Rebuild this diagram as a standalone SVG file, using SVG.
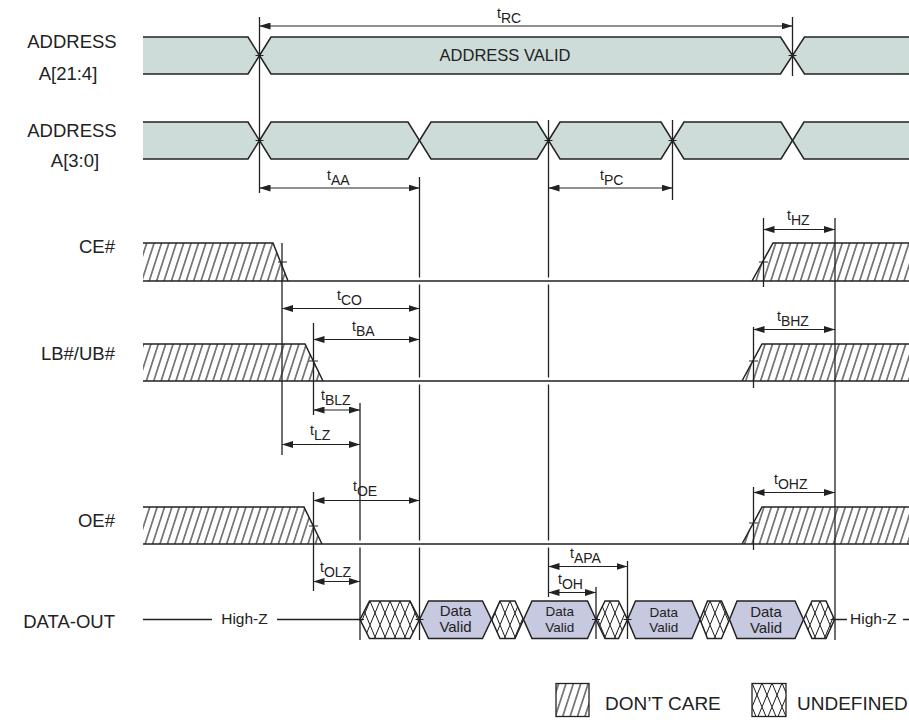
<svg xmlns="http://www.w3.org/2000/svg" width="909" height="722" viewBox="0 0 909 722">
<style>
text{font-family:"Liberation Sans",Arial,sans-serif;fill:#222}
.lbl{font-size:18.5px}
.tl{font-size:14px}
.bus{fill:#cddcd9;stroke:none}
.dv{fill:#c6c9e0;stroke:none}
.ud{fill:url(#xhatch);stroke:none}
.hz{fill:url(#hatch);stroke:none}
.ol{fill:none;stroke:#222;stroke-width:1.5;stroke-linejoin:miter}
.ext{fill:none;stroke:#222;stroke-width:1.3}
.tick{fill:none;stroke:#222;stroke-width:1.2}
.dim{fill:none;stroke:#222;stroke-width:1.2;marker-start:url(#ah);marker-end:url(#ah)}
.dvt{font-size:15px;text-anchor:middle}
.dvs{font-size:13.5px;text-anchor:middle}
</style>
<defs>
<marker id="ah" viewBox="0 0 11 7" refX="11" refY="3.5" markerWidth="11" markerHeight="7" markerUnits="userSpaceOnUse" orient="auto-start-reverse"><path d="M0,0 L11,3.5 L0,7 z" fill="#222"/></marker>
<pattern id="hatch" patternUnits="userSpaceOnUse" width="7.4" height="10" patternTransform="skewX(-18)"><rect width="7.4" height="10" fill="#fff"/><line x1="3.7" y1="-1" x2="3.7" y2="11" stroke="#1a1a1a" stroke-width="1.1"/></pattern>
<pattern id="xhatch" patternUnits="userSpaceOnUse" x="0" y="601" width="10" height="24"><rect width="10" height="24" fill="#fff"/><path d="M0,0 L10,24 M0,24 L10,0" stroke="#1a1a1a" stroke-width="1" fill="none"/></pattern>
<pattern id="xhatchL" patternUnits="userSpaceOnUse" x="752" y="683" width="10" height="24"><rect width="10" height="24" fill="#fff"/><path d="M0,0 L10,24 M0,24 L10,0" stroke="#1a1a1a" stroke-width="1" fill="none"/></pattern>
</defs>
<rect width="909" height="722" fill="#fff"/>

<g id="addr-hi">
<text class="lbl" x="72" y="48" text-anchor="middle">ADDRESS</text>
<text class="lbl" x="68" y="80" text-anchor="middle">A[21:4]</text>
<path class="bus" d="M143,37 H248 L259.5,55.5 L248,74 H143 Z"/>
<path class="ol" d="M143,37 H248 L259.5,55.5 L248,74 H143"/>
<path class="bus" d="M259.5,55.5 L271,37 H780.5 L792.5,55.5 L780.5,74 H271 Z"/>
<path class="ol" d="M259.5,55.5 L271,37 H780.5 L792.5,55.5 L780.5,74 H271 Z"/>
<path class="bus" d="M792.5,55.5 L804.5,37 H909 V74 H804.5 Z"/>
<path class="ol" d="M909,37 H804.5 L792.5,55.5 L804.5,74 H909"/>
<text x="505" y="61" font-size="16.5" text-anchor="middle">ADDRESS VALID</text>
<path class="tick" d="M255.5,55.5 H263.5 M788.5,55.5 H796.5"/>
</g>

<g id="addr-lo">
<text class="lbl" x="72" y="137" text-anchor="middle">ADDRESS</text>
<text class="lbl" x="75" y="167" text-anchor="middle">A[3:0]</text>
<path class="bus" d="M143,122 H248 L259.5,140.5 L248,159 H143 Z"/>
<path class="ol" d="M143,122 H248 L259.5,140.5 L248,159 H143"/>
<path class="bus" d="M259.5,140.5 L271,122 H408 L419.5,140.5 L408,159 H271 Z"/>
<path class="ol" d="M259.5,140.5 L271,122 H408 L419.5,140.5 L408,159 H271 Z"/>
<path class="bus" d="M419.5,140.5 L431,122 H537 L548.5,140.5 L537,159 H431 Z"/>
<path class="ol" d="M419.5,140.5 L431,122 H537 L548.5,140.5 L537,159 H431 Z"/>
<path class="bus" d="M548.5,140.5 L560,122 H661 L672.5,140.5 L661,159 H560 Z"/>
<path class="ol" d="M548.5,140.5 L560,122 H661 L672.5,140.5 L661,159 H560 Z"/>
<path class="bus" d="M672.5,140.5 L684,122 H781 L792.5,140.5 L781,159 H684 Z"/>
<path class="ol" d="M672.5,140.5 L684,122 H781 L792.5,140.5 L781,159 H684 Z"/>
<path class="bus" d="M792.5,140.5 L804,122 H909 V159 H804 Z"/>
<path class="ol" d="M909,122 H804 L792.5,140.5 L804,159 H909"/>
<path class="tick" d="M255.5,140.5 H263.5 M544.5,140.5 H552.5 M668.5,140.5 H676.5"/>
</g>

<g id="ce">
<text class="lbl" x="115" y="253" text-anchor="end">CE#</text>
<path class="hz" d="M143,243 H273 L288,281 H143 Z"/>
<path class="hz" d="M752,281 L773,243 H909 V281 Z"/>
<path class="ol" d="M143,243 H273 L288,281 M143,281 H909 M752,281 L773,243 H909"/>
<path class="tick" d="M278,262 H287 M759,262 H768"/>
</g>

<g id="lb-ub">
<text class="lbl" x="115" y="360" text-anchor="end">LB#/UB#</text>
<path class="hz" d="M143,344 H305 L323,381 H143 Z"/>
<path class="hz" d="M742,381 L762,344 H909 V381 Z"/>
<path class="ol" d="M143,344 H305 L323,381 M143,381 H909 M742,381 L762,344 H909"/>
<path class="tick" d="M309,361 H318 M749,361 H758"/>
</g>

<g id="oe">
<text class="lbl" x="115" y="527" text-anchor="end">OE#</text>
<path class="hz" d="M143,507 H304 L322,544 H143 Z"/>
<path class="hz" d="M742,544 L762,507 H909 V544 Z"/>
<path class="ol" d="M143,507 H304 L322,544 M143,544 H909 M742,544 L762,507 H909"/>
<path class="tick" d="M309,526 H318 M749,523 H758"/>
</g>

<g id="data-out">
<text class="lbl" x="115" y="628" text-anchor="end">DATA-OUT</text>
<path class="ol" d="M143,619.5 H212 M277,619.5 H360" stroke-width="1.3"/>
<text x="244.5" y="624" font-size="15.5" text-anchor="middle">High-Z</text>
<path class="ud" d="M360,619.5 L369.5,601 H410 L419.5,619.5 L410,638.5 H369.5 Z"/>
<path class="ol" d="M360,619.5 L369.5,601 H410 L419.5,619.5 L410,638.5 H369.5 Z"/>
<path class="dv" d="M419.5,619.5 L428.5,601 H482.5 L491.5,619.5 L482.5,638.5 H428.5 Z"/>
<path class="ol" d="M419.5,619.5 L428.5,601 H482.5 L491.5,619.5 L482.5,638.5 H428.5 Z"/>
<path class="ud" d="M491.5,619.5 L500,601 H515 L523.5,619.5 L515,638.5 H500 Z"/>
<path class="ol" d="M491.5,619.5 L500,601 H515 L523.5,619.5 L515,638.5 H500 Z"/>
<path class="dv" d="M523.5,619.5 L532,601 H587.5 L596,619.5 L587.5,638.5 H532 Z"/>
<path class="ol" d="M523.5,619.5 L532,601 H587.5 L596,619.5 L587.5,638.5 H532 Z"/>
<path class="ud" d="M596,619.5 L605,601 H618.5 L627.5,619.5 L618.5,638.5 H605 Z"/>
<path class="ol" d="M596,619.5 L605,601 H618.5 L627.5,619.5 L618.5,638.5 H605 Z"/>
<path class="dv" d="M627.5,619.5 L635.5,601 H692 L700,619.5 L692,638.5 H635.5 Z"/>
<path class="ol" d="M627.5,619.5 L635.5,601 H692 L700,619.5 L692,638.5 H635.5 Z"/>
<path class="ud" d="M700,619.5 L707.5,601 H721.5 L729.5,619.5 L721.5,638.5 H707.5 Z"/>
<path class="ol" d="M700,619.5 L707.5,601 H721.5 L729.5,619.5 L721.5,638.5 H707.5 Z"/>
<path class="dv" d="M729.5,619.5 L737,601 H795 L803.5,619.5 L795,638.5 H737 Z"/>
<path class="ol" d="M729.5,619.5 L737,601 H795 L803.5,619.5 L795,638.5 H737 Z"/>
<path class="ud" d="M803.5,619.5 L812,601 H826 L834.5,619.5 L826,638.5 H812 Z"/>
<path class="ol" d="M803.5,619.5 L812,601 H826 L834.5,619.5 L826,638.5 H812 Z"/>
<text class="dvt" x="455.5" y="616">Data</text>
<text class="dvt" x="455.5" y="631.5">Valid</text>
<text class="dvs" x="559.7" y="616">Data</text>
<text class="dvs" x="559.7" y="631.5">Valid</text>
<text class="dvs" x="663.7" y="616.5">Data</text>
<text class="dvs" x="663.7" y="631.5">Valid</text>
<text class="dvt" x="766" y="617">Data</text>
<text class="dvt" x="766" y="633">Valid</text>
<path class="ol" d="M834.5,619.5 H847 M903,619.5 H909" stroke-width="1.3"/>
<text x="850" y="624" font-size="15.5">High-Z</text>
<path class="tick" d="M356,619.5 H364 M415.5,619.5 H423.5 M592,619.5 H600 M623.5,619.5 H631.5 M830.5,619.5 H838.5"/>
</g>

<g id="connectors">
<path class="ext" d="M259.5,17 V193 M792.5,17 V76 M419.5,177 V277.5 M419.5,284.5 V377.5 M419.5,384.5 V540.5 M419.5,547.5 V640 M548.5,120 V277.5 M548.5,284.5 V377.5 M548.5,384.5 V540.5 M548.5,547.5 V597 M672.5,120 V200 M282,243 V455 M313.5,323 V415 M360,403 V540.5 M360,547.5 V640 M763.5,218 V287 M835,218 V640 M753.5,327 V388 M313.5,492 V591 M753.5,487 V550 M596,587 V639 M627.5,561 V639"/>
<line class="dim" x1="259.5" y1="26" x2="792.5" y2="26"/>
<line class="dim" x1="259.5" y1="188" x2="419.5" y2="188"/>
<line class="dim" x1="548.5" y1="188" x2="672.5" y2="188"/>
<line class="dim" x1="282" y1="308.5" x2="419.5" y2="308.5"/>
<line class="dim" x1="313.5" y1="339.5" x2="419.5" y2="339.5"/>
<line class="dim" x1="313.5" y1="410" x2="360" y2="410"/>
<line class="dim" x1="282" y1="444.5" x2="360" y2="444.5"/>
<line class="dim" x1="763.5" y1="229.5" x2="835" y2="229.5"/>
<line class="dim" x1="753.5" y1="329.5" x2="835" y2="329.5"/>
<line class="dim" x1="313.5" y1="500.5" x2="419.5" y2="500.5"/>
<line class="dim" x1="313.5" y1="581.5" x2="360" y2="581.5"/>
<line class="dim" x1="753.5" y1="492.5" x2="835" y2="492.5"/>
<line class="dim" x1="548.5" y1="566.5" x2="627.5" y2="566.5"/>
<line class="dim" x1="548.5" y1="592.5" x2="596" y2="592.5"/>
<text class="tl" x="497" y="18">t<tspan dy="5">RC</tspan></text>
<text class="tl" x="327" y="180">t<tspan dy="5">AA</tspan></text>
<text class="tl" x="600" y="180">t<tspan dy="5">PC</tspan></text>
<text class="tl" x="337" y="300">t<tspan dy="5">CO</tspan></text>
<text class="tl" x="352" y="331">t<tspan dy="5">BA</tspan></text>
<text class="tl" x="321" y="400">t<tspan dy="5">BLZ</tspan></text>
<text class="tl" x="310" y="434.5">t<tspan dy="5">LZ</tspan></text>
<text class="tl" x="787" y="220">t<tspan dy="5">HZ</tspan></text>
<text class="tl" x="777" y="321">t<tspan dy="5">BHZ</tspan></text>
<text class="tl" x="353" y="491">t<tspan dy="5">OE</tspan></text>
<text class="tl" x="320" y="572">t<tspan dy="5">OLZ</tspan></text>
<text class="tl" x="774" y="483.5">t<tspan dy="5">OHZ</tspan></text>
<text class="tl" x="570" y="558">t<tspan dy="5">APA</tspan></text>
<text class="tl" x="558" y="584">t<tspan dy="5">OH</tspan></text>
</g>

<g id="legend">
<rect x="556" y="683.5" width="33" height="33" fill="url(#hatch)" stroke="#222" stroke-width="1.3"/>
<text x="605" y="710" font-size="19">DON’T CARE</text>
<rect x="752" y="683.5" width="34" height="33" fill="url(#xhatchL)" stroke="#222" stroke-width="1.3"/>
<text x="797" y="710" font-size="19">UNDEFINED</text>
</g>
</svg>
